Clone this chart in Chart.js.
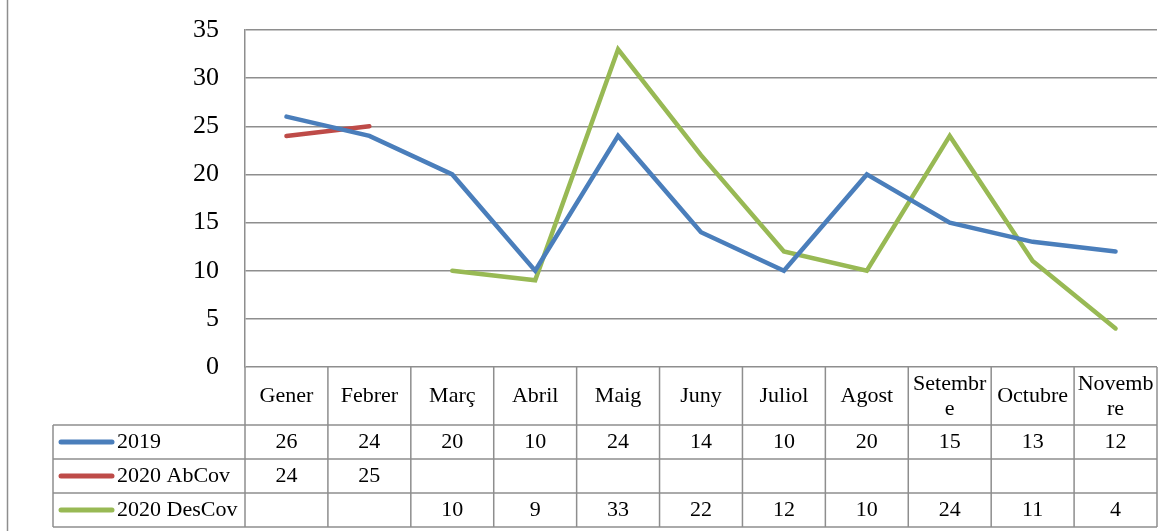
<!DOCTYPE html>
<html>
<head>
<meta charset="utf-8">
<script src="https://cdn.jsdelivr.net/npm/chart.js@4.4.1/dist/chart.umd.min.js"></script>
<style>
  html, body { margin: 0; padding: 0; background: #fff; }
  #wrap { position: relative; width: 1176px; height: 531px; }
</style>
</head>
<body>
<div id="wrap"><canvas id="chart" width="1176" height="531"></canvas></div>
<script>
const months = ['Gener', 'Febrer', 'Març', 'Abril', 'Maig', 'Juny', 'Juliol', 'Agost', ['Setembr', 'e'], 'Octubre', ['Novemb', 're']];
const s2019 = [26, 24, 20, 10, 24, 14, 10, 20, 15, 13, 12];
const sAbCov = [24, 25, null, null, null, null, null, null, null, null, null];
const sDesCov = [null, null, 10, 9, 33, 22, 12, 10, 24, 11, 4];
const seriesNames = ['2019', '2020 AbCov', '2020 DesCov'];
const seriesColors = ['#4a7ebb', '#be4b48', '#98b954'];

const FONT = '"Liberation Serif", "DejaVu Serif", serif';
const GRID = '#8e8e8e';

// data table drawn under the plot, columns follow the x scale
const tablePlugin = {
  id: 'dataTable',
  afterDraw(chart) {
    const { ctx, chartArea } = chart;
    const xs = chart.scales.x;
    const n = months.length;
    const colW = (chartArea.right - chartArea.left) / n;
    const left = chartArea.left, right = chartArea.right;
    const headTop = chartArea.bottom, headBot = 425;
    const rowH = 34;
    const tableLeft = 53;
    const rows = [s2019, sAbCov, sDesCov];

    ctx.save();
    ctx.strokeStyle = GRID;
    ctx.lineWidth = 1.5;
    ctx.beginPath();
    for (let r = 0; r <= 3; r++) {
      const y = headBot + r * rowH;
      ctx.moveTo(tableLeft, y); ctx.lineTo(right, y);
    }
    for (let i = 0; i <= n; i++) {
      const x = left + i * colW;
      ctx.moveTo(x, headTop); ctx.lineTo(x, headBot + 3 * rowH);
    }
    ctx.moveTo(tableLeft, headBot); ctx.lineTo(tableLeft, headBot + 3 * rowH);
    // outer chart frame, left edge
    ctx.moveTo(7.5, 0); ctx.lineTo(7.5, 531);
    ctx.stroke();

    ctx.fillStyle = '#000';
    ctx.font = '22px ' + FONT;
    ctx.textAlign = 'center';
    ctx.textBaseline = 'middle';
    months.forEach((m, i) => {
      const cx = xs.getPixelForValue(i);
      const cy = (headTop + headBot) / 2;
      if (Array.isArray(m)) {
        ctx.fillText(m[0], cx, cy - 12);
        ctx.fillText(m[1], cx, cy + 13);
      } else {
        ctx.fillText(m, cx, cy);
      }
    });

    rows.forEach((vals, r) => {
      const cy = headBot + r * rowH + rowH / 2;
      vals.forEach((v, i) => {
        if (v === null) return;
        ctx.fillText(String(v), xs.getPixelForValue(i), cy);
      });
      ctx.strokeStyle = seriesColors[r];
      ctx.lineWidth = 5;
      ctx.lineCap = 'round';
      ctx.beginPath();
      ctx.moveTo(61, cy); ctx.lineTo(112, cy);
      ctx.stroke();
      ctx.textAlign = 'left';
      ctx.fillText(seriesNames[r], 117, cy);
      ctx.textAlign = 'center';
    });
    ctx.restore();
  }
};

const lineDs = (label, data, color) => ({
  label,
  data,
  borderColor: color,
  backgroundColor: color,
  borderWidth: 4.5,
  borderCapStyle: 'round',
  borderJoinStyle: 'miter',
  pointRadius: 0,
  tension: 0,
  spanGaps: false
});

new Chart(document.getElementById('chart'), {
  type: 'line',
  data: {
    labels: months.map((m) => Array.isArray(m) ? m.join('') : m),
    datasets: [
      lineDs(seriesNames[0], s2019, seriesColors[0]),
      lineDs(seriesNames[1], sAbCov, seriesColors[1]),
      lineDs(seriesNames[2], sDesCov, seriesColors[2])
    ]
  },
  options: {
    responsive: false,
    animation: false,
    layout: { padding: { top: 30, right: 19, bottom: 164, left: 0 } },
    plugins: { legend: { display: false }, tooltip: { enabled: false } },
    scales: {
      x: { type: 'category', offset: true, display: false },
      y: {
        min: 0,
        max: 35,
        ticks: { stepSize: 5, color: '#000', padding: 0, font: { family: FONT, size: 26 } },
        grid: { color: GRID, lineWidth: 1.5, drawTicks: true, tickLength: 26, tickColor: 'rgba(0,0,0,0)' },
        border: { display: true, color: GRID, width: 1.5 },
        afterFit(scale) { scale.width = 245; }
      }
    }
  },
  plugins: [tablePlugin]
});
</script>
</body>
</html>
